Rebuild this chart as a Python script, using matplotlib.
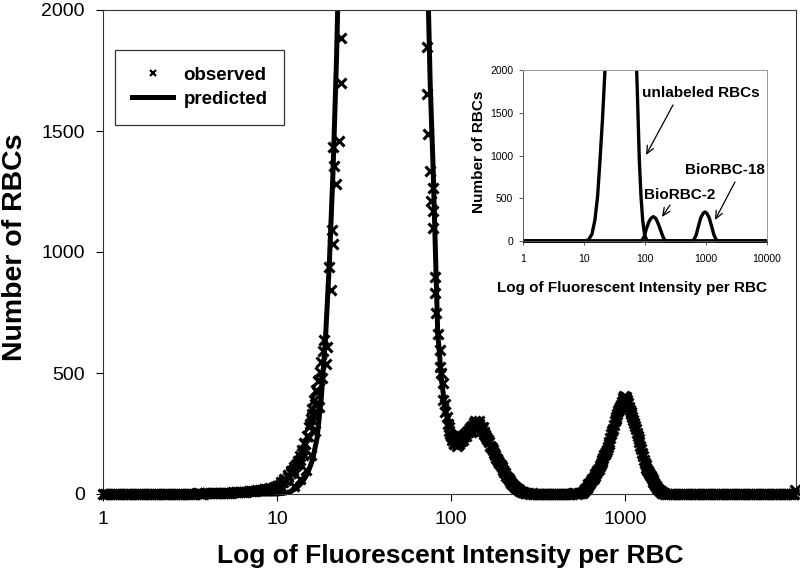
import numpy as np
import matplotlib
matplotlib.use("Agg")
from matplotlib import pyplot as plt
from matplotlib.lines import Line2D
from matplotlib.patches import Rectangle
from matplotlib.ticker import NullLocator

plt.rcParams["font.family"] = ["Liberation Sans", "DejaVu Sans"]

# ---- observed histogram, split by region ----
obs_x_low = [1.00, 1.06, 1.12, 1.19, 1.26, 1.33, 1.41, 1.50, 1.58, 1.68, 1.78, 1.88, 2.00, 2.11,
             2.24, 2.37, 2.51, 2.66, 2.82, 2.99, 3.16, 3.35, 3.55, 3.76, 3.98, 4.22, 4.47, 4.73,
             5.01, 5.31, 5.62, 5.96, 6.31, 6.68, 7.08, 7.50, 7.94, 8.41, 8.91, 9.44, 10.0]
obs_y_low = [0, 0, 0, 0, 1, 0, 0, 1, 0, 0, 1, 0, 0, 1, 1, 0, 1, 1, 2, 1, 2, 2, 3, 2, 3, 4, 4, 5,
             5, 6, 7, 8, 9, 10, 12, 14, 16, 19, 22, 26, 32]
obs_x_low2 = [1.03, 1.09, 1.16, 1.22, 1.30, 1.37, 1.45, 1.54, 1.63, 1.73, 1.83, 1.94, 2.05, 2.18,
              2.30, 2.44, 2.58, 2.74, 2.90, 3.07, 3.25, 3.45, 3.65, 3.87, 4.10, 4.34, 4.60, 4.87,
              5.16, 5.46, 5.79, 6.13, 6.49, 6.88, 7.29, 7.72, 8.18, 8.66, 9.17, 9.72]
obs_y_low2 = [1, 0, 0, 1, 0, 1, 0, 0, 1, 1, 0, 1, 0, 1, 0, 1, 2, 1, 1, 2, 1, 3, 2, 3, 3, 4, 5, 4,
              6, 6, 8, 7, 10, 11, 13, 15, 18, 20, 24, 28]

obs_x_rise = [10.4, 10.8, 11.2, 11.6, 12.0, 12.4, 12.8, 13.2, 13.6, 14.0, 14.4, 14.8, 15.2, 15.6,
              16.0, 16.4, 16.8, 17.2, 17.6, 18.0, 18.4, 18.7, 19.1, 19.5, 19.8, 20.4, 20.7, 20.9,
              20.9, 21.2, 21.8, 22.6, 23.4, 23.4, 12.6, 13.6, 14.6, 15.6, 16.6, 17.4, 18.2]
obs_y_rise = [38, 48, 58, 70, 85, 100, 118, 135, 158, 180, 210, 240, 275, 310, 350, 390, 430, 465,
              505, 545, 590, 635, 539, 607, 937, 841, 1089, 1034, 1432, 1357, 1281, 1460, 1700,
              1886, 35, 60, 100, 160, 260, 360, 480]
# left edge of the scatter on the rising side
obs_x_rise2 = [8.6, 9.0, 9.6, 10.1, 10.6, 11.0, 11.5, 12.0, 12.5, 13.0, 13.5, 14.0, 14.5, 15.0,
               15.5, 16.0, 16.5, 17.0, 17.5]
obs_y_rise2 = [15, 20, 26, 34, 50, 62, 78, 95, 112, 125, 140, 170, 205, 240, 290, 330, 370, 420,
               470]

obs_x_fall = [73.3, 73.3, 74.3, 76.3, 76.9, 78.4, 78.4, 78.6, 80.5, 81.5, 82.6, 84.0, 86.0, 87.1,
              88.0, 89.5, 90.6, 91.9, 93.0, 94.4, 96.0]
obs_y_fall = [1847, 1653, 1489, 1336, 1212, 1171, 1101, 1266, 895, 829, 746, 660, 594, 524, 500,
              458, 388, 370, 340, 318, 290]

obs_x_bump = [97, 99, 101, 103, 105, 107, 109, 111, 113, 115, 117, 120, 123, 126, 129, 132, 135,
              138, 141, 144, 147, 150, 154, 158, 162, 166, 170, 175, 180, 185, 190, 196, 202, 208,
              215, 222, 230, 238, 247, 256, 266, 277, 104, 108, 112, 118, 130, 145]
obs_y_bump = [275, 250, 240, 232, 222, 218, 228, 215, 232, 240, 236, 250, 256, 262, 270, 282, 292,
              280, 290, 284, 276, 268, 258, 244, 228, 215, 196, 180, 162, 146, 128, 110, 92, 76,
              60, 46, 34, 24, 16, 10, 6, 3, 205, 200, 208, 225, 255, 300]
obs_x_bump2 = [98, 100, 102, 104, 106, 108, 110, 112, 114, 116, 119, 122, 125, 128, 131, 134, 137,
               140, 143, 146, 149, 152, 156, 160, 164, 168, 172, 177, 182, 187, 193, 199, 205, 212,
               218, 226, 234, 242, 251, 261, 271]
obs_y_bump2 = [262, 238, 225, 210, 226, 212, 205, 222, 220, 230, 245, 240, 258, 272, 262, 275, 300,
               296, 278, 290, 262, 275, 250, 235, 222, 200, 190, 170, 150, 138, 118, 100, 85, 66,
               55, 40, 30, 20, 13, 8, 4]

obs_x_gap = [285, 298, 312, 327, 342, 358, 375, 393, 411, 431, 451, 472, 494, 518, 542, 567,
             291, 305, 319, 334, 350, 366, 384, 402, 421, 441, 461, 483, 506, 530, 554, 574]
obs_y_gap = [2, 2, 1, 1, 1, 0, 1, 1, 0, 1, 1, 2, 2, 3, 4, 6,
             3, 1, 2, 0, 1, 1, 0, 1, 1, 0, 2, 1, 3, 2, 5, 8]

obs_x_peak = [580, 595, 610, 625, 640, 655, 670, 686, 702, 718, 735, 752, 770, 788, 806, 825, 845,
              865, 885, 906, 927, 949, 971, 994, 1017, 1041, 1066, 1091, 1117, 1143, 1170, 1198,
              1226, 1255, 1285, 1315, 1346, 1378, 1410, 1444, 1478, 1513, 1549, 1585, 1622, 1660,
              1700, 975, 990, 1005, 1000, 1020]
obs_y_peak = [12, 22, 32, 42, 52, 64, 76, 86, 100, 115, 132, 150, 166, 182, 205, 230, 262, 285,
              310, 332, 352, 368, 384, 392, 380, 375, 348, 330, 305, 280, 254, 228, 200, 168, 140,
              118, 100, 88, 74, 58, 44, 32, 22, 14, 8, 4, 2, 398, 405, 395, 372, 400]
obs_x_peak2 = [588, 602, 617, 632, 647, 662, 678, 694, 710, 726, 743, 761, 779, 797, 815, 835, 855,
               875, 895, 916, 938, 960, 983, 1006, 1029, 1053, 1078, 1104, 1130, 1156, 1184, 1212,
               1240, 1270, 1300, 1330, 1362, 1394, 1427, 1461, 1495, 1531, 1567, 1604, 1641, 1680]
obs_y_peak2 = [20, 26, 40, 45, 60, 68, 82, 95, 105, 125, 140, 160, 172, 195, 215, 248, 270, 300,
               318, 345, 360, 380, 398, 385, 390, 360, 338, 318, 292, 268, 240, 215, 185, 155, 128,
               108, 95, 80, 66, 50, 38, 26, 18, 11, 6, 3]

obs_x_tail = [1740, 1840, 1950, 2070, 2190, 2320, 2460, 2610, 2760, 2930, 3100, 3290, 3480, 3690,
              3910, 4140, 4390, 4650, 4930, 5220, 5530, 5860, 6210, 6580, 6970, 7390, 7830, 8290,
              8790, 9310, 9550]
obs_y_tail = [1, 1, 1, 0, 1, 0, 0, 1, 0, 0, 1, 0, 0, 0, 1, 0, 0, 0, 1, 0, 0, 0, 0, 1, 0, 0, 0, 1,
              0, 0, 15]
obs_x_tail2 = [1790, 1895, 2010, 2130, 2255, 2390, 2535, 2685, 2845, 3015, 3195, 3385, 3585, 3800,
               4025, 4265, 4520, 4790, 5075, 5375, 5695, 6035, 6395, 6775, 7180, 7610, 8060, 8540,
               9050, 9430]
obs_y_tail2 = [0, 1, 0, 1, 0, 1, 0, 0, 1, 0, 0, 1, 0, 1, 0, 0, 1, 0, 0, 1, 0, 0, 1, 0, 0, 1, 0, 0,
               1, 2]

# ---- predicted curve (main panel); the first peak runs off scale ----
pred_x = [1, 10, 11, 12, 13, 14, 15, 16, 17, 18, 19, 20, 21, 22, 22.6, 72, 74.3, 76, 79, 81.5, 84,
          86, 88, 92, 98, 104, 110, 117, 125, 133, 140, 147, 155, 167, 183, 198, 217, 239, 260,
          290, 320, 479, 550, 604, 650, 689, 740, 787, 820, 851, 900, 935, 970, 1000, 1035, 1067,
          1120, 1172, 1220, 1268, 1330, 1391, 1460, 1527, 1600, 1700, 1900, 9600]
pred_y = [0, 0, 3, 10, 25, 50, 85, 140, 230, 400, 640, 950, 1330, 1800, 2150, 2300, 2000, 1700,
          1349, 1000, 664, 580, 480, 370, 270, 235, 228, 240, 262, 280, 288, 282, 262, 212, 152,
          100, 56, 24, 8, 2, 0, 0, 2, 25, 55, 87, 130, 181, 230, 276, 330, 359, 378, 382, 370,
          346, 300, 252, 200, 153, 110, 75, 45, 22, 8, 2, 0, 0]

# ---- inset: separate predicted populations ----
unl_x = [1, 10, 11.8, 13.5, 15.1, 16.7, 18.3, 20, 22.1, 23, 72, 73, 77, 80.7, 86, 91.6, 98, 106,
         115, 10000]
unl_y = [0, 0, 12, 80, 246, 520, 947, 1400, 2000, 2300, 2300, 2000, 1450, 947, 520, 246, 80, 12,
         0, 0]
b2_x = [1, 80, 88, 97, 106, 115, 125, 137, 150, 163, 176, 190, 200, 213, 230, 10000]
b2_y = [0, 0, 3, 50, 148, 220, 265, 285, 265, 210, 148, 80, 40, 8, 0, 0]
b18_x = [1, 550, 620, 690, 748, 820, 900, 964, 1030, 1130, 1240, 1350, 1496, 1600, 10000]
b18_y = [0, 0, 3, 70, 168, 270, 325, 340, 325, 270, 168, 70, 3, 0, 0]

main_xticks = [1, 10, 100, 1000]
inset_xticks = [1, 10, 100, 1000, 10000]
yticks = [0, 500, 1000, 1500, 2000]


def clip_below(line, ax, extra=0.05):
    # let thick lines at y=0 show both halves, but still clip at the top
    rect = Rectangle((0, -extra), 1, 1 + extra, transform=ax.transAxes)
    line.set_clip_path(rect)


fig = plt.figure(figsize=(8, 5.82), dpi=100)

# ---------------- main panel ----------------
ax = fig.add_axes([103 / 800, 1 - 494 / 582, (796 - 103) / 800, (494 - 10) / 582])
obs_x = np.concatenate([obs_x_low, obs_x_low2, obs_x_rise, obs_x_rise2, obs_x_fall, obs_x_bump,
                        obs_x_bump2, obs_x_gap, obs_x_peak, obs_x_peak2, obs_x_tail, obs_x_tail2])
obs_y = np.concatenate([obs_y_low, obs_y_low2, obs_y_rise, obs_y_rise2, obs_y_fall, obs_y_bump,
                        obs_y_bump2, obs_y_gap, obs_y_peak, obs_y_peak2, obs_y_tail, obs_y_tail2])

(l_pred,) = ax.plot(pred_x, pred_y, "-", color="black", lw=3.6, zorder=2)
clip_below(l_pred, ax)
ax.plot(obs_x, obs_y, "x", color="black", ms=6.5, mew=2.2, zorder=3, clip_on=False)

ax.set_xscale("log")
ax.set_xlim(1, 10 ** ((796 - 104) / 173.7))
ax.set_ylim(0, 2000)
ax.set_xticks(main_xticks)
ax.set_xticklabels([str(t) for t in main_xticks])
ax.xaxis.set_minor_locator(NullLocator())
ax.set_yticks(yticks)
ax.set_yticklabels([str(t) for t in yticks])
ax.tick_params(axis="both", direction="out", length=5, width=0.8, labelsize=14, color="black")
ax.tick_params(axis="x", pad=7)
ax.tick_params(axis="y", pad=8)
for s in ax.spines.values():
    s.set_linewidth(0.8)
    s.set_color("#333333")

fig.text(450 / 800, 1 - 556 / 582, "Log of Fluorescent Intensity per RBC", ha="center",
         va="center", fontsize=19, fontweight="bold")
fig.text(15 / 800, 1 - 247 / 582, "Number of RBCs", ha="center", va="center", rotation=90,
         fontsize=20.5, fontweight="bold")

h_obs = Line2D([], [], ls="none", marker="x", color="black", ms=4.5, mew=1.6)
h_pred = Line2D([], [], color="black", lw=3.6)
leg = ax.legend([h_obs, h_pred], ["observed", "predicted"], loc="upper left",
                bbox_to_anchor=(115 / 800, 1 - 50 / 582), bbox_transform=fig.transFigure,
                borderaxespad=0, fancybox=False, edgecolor="#333333", framealpha=1,
                prop=dict(weight="bold", size=13.5), handlelength=2.2, handletextpad=0.55,
                borderpad=0.9, labelspacing=0.35)
leg.get_frame().set_linewidth(0.9)

# ---------------- inset ----------------
axi = fig.add_axes([523 / 800, 1 - 241 / 582, 244 / 800, 171 / 582])
for xs, ys in [(unl_x, unl_y), (b2_x, b2_y), (b18_x, b18_y)]:
    (ln,) = axi.plot(xs, ys, "-", color="black", lw=2.4)
    clip_below(ln, axi, extra=0.04)

axi.set_xscale("log")
axi.set_xlim(1, 10000)
axi.set_ylim(0, 2000)
axi.set_xticks(inset_xticks)
axi.set_xticklabels([str(t) for t in inset_xticks])
axi.xaxis.set_minor_locator(NullLocator())
axi.set_yticks(yticks)
axi.set_yticklabels([str(t) for t in yticks])
axi.tick_params(axis="both", direction="out", length=3, width=0.7, labelsize=7.5, color="#555555")
axi.tick_params(axis="x", pad=6)
axi.tick_params(axis="y", pad=4)
for side, s in axi.spines.items():
    s.set_linewidth(0.7)
    s.set_color("#999999" if side in ("top", "right") else "#555555")

fig.text(632 / 800, 1 - 288 / 582, "Log of Fluorescent Intensity per RBC", ha="center",
         va="center", fontsize=11, fontweight="bold")
fig.text(479 / 800, 1 - 152 / 582, "Number of RBCs", ha="center", va="center", rotation=90,
         fontsize=11, fontweight="bold")

arrow = dict(arrowstyle="->,head_length=0.55,head_width=0.25", lw=0.9, color="black",
             shrinkA=0, shrinkB=0)
axi.text(89.3, 1731, "unlabeled RBCs", ha="left", va="center", fontsize=11, fontweight="bold")
axi.annotate("", xy=(104, 1006), xytext=(288, 1591), arrowprops=arrow)
axi.text(96.3, 538, "BioRBC-2", ha="left", va="center", fontsize=11, fontweight="bold")
axi.annotate("", xy=(190, 281), xytext=(257, 421), arrowprops=arrow)
axi.text(453, 830, "BioRBC-18", ha="left", va="center", fontsize=11, fontweight="bold")
axi.annotate("", xy=(1405, 246), xytext=(2985, 690), arrowprops=arrow)

fig.savefig("out.png", dpi=100)
